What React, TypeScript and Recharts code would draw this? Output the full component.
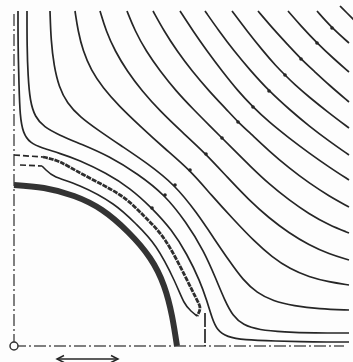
import React from 'react';
import { ComposedChart, Line, Scatter, XAxis, YAxis } from 'recharts';

type P = [number, number];

// Streamlines (x = distance from left wall, y = distance from bottom wall)
const L1: P[] = [[4,335],[4,300],[5,260],[6,230],[9,213],[16,203],[28,198],[45,193],[65,186],[92,173],[116,158],[138,138],[158,116],[173,92],[186,65],[193,45],[198,28],[203,16],[213,9],[230,6],[260,5],[300,4],[335,4]];
const L2: P[] = [[13,335],[13,300],[14,270],[16,245],[21,229],[30,219],[45,211],[67,202],[95,190],[124,172],[151,151],[172,124],[190,95],[202,67],[211,45],[219,30],[229,21],[245,16],[270,14],[300,13],[335,13]];
const L3: P[] = [[36,335],[37,305],[40,280],[45,259],[53,243],[66,229],[84,216],[106,201],[133,183],[161,161],[183,133],[201,106],[216,84],[229,66],[243,53],[259,45],[280,40],[305,37],[335,36]];
const L4: P[] = [[61,335],[64,315],[69,295],[77,276],[89,258],[105,240],[126,220],[150,198],[176,176],[198,150],[220,126],[240,105],[258,89],[276,77],[295,69],[315,64],[335,61]];
const L5: P[] = [[86,335],[92,315],[101,295],[113,275],[128,255],[146,235],[168,214],[192,192],[214,168],[235,146],[255,128],[275,113],[295,101],[315,92],[335,86]];
const L6: P[] = [[113,335],[121,315],[132,295],[146,275],[162,255],[180,236],[196,220],[208,208],[220,196],[236,180],[255,162],[275,146],[295,132],[315,121],[335,113]];
const L7: P[] = [[139,335],[150,315],[163,295],[178,275],[195,255],[213,236],[224,224],[236,213],[255,195],[275,178],[295,163],[315,150],[335,139]];
const L8: P[] = [[166,335],[179,315],[193,295],[208,275],[224,255],[239,239],[255,224],[275,208],[295,193],[315,179],[335,166]];
const L9: P[] = [[191,335],[205,315],[220,295],[236,276],[255,255],[276,236],[295,220],[315,205],[335,191]];
const L10: P[] = [[218,335],[233,315],[249,295],[262,280],[271,271],[280,262],[295,249],[315,233],[335,218]];
const L11: P[] = [[244,335],[261,315],[275,300],[287,287],[300,275],[315,261],[335,244]];
const L12: P[] = [[274,335],[287,320],[303,303],[320,287],[335,274]];
const L13: P[] = [[303,335],[318,318],[335,303]];
const L14: P[] = [[326,340],[333,333],[340,326]];

const cylinder: P[] = [[0,161],[30,158],[60,150],[88,136],[114,114],[136,88],[150,60],[158,30],[163,0]];

const sepDashTop: P[] = [[0,191],[29,189]];
const innerDashTop: P[] = [[6,181],[28,180]];
const eddyOuter: P[] = [[29,189],[46,184],[70,171],[106,151],[130,130],[151,106],[171,70],[182,48],[186,38],[183,30]];
const eddyInner: P[] = [[28,180],[32,176],[42,169],[66,160],[99,142],[122,122],[142,99],[160,66],[170,44],[177,35],[183,30]];
const sepBottom: P[] = [[191,33],[191,0]];

const wallV: P[] = [[0,0],[0,334]];
const wallH: P[] = [[0,0],[330,0]];

const diagMarks: P[] = [[318,318],[303,303],[287,287],[271,271],[255,255],[239,239],[224,224],[208,208],[192,192],[176,176],[161,161],[151,151],[138,138]];
const origin: P[] = [[0,0]];

const arrowShaft: P[] = [[43,-13],[104,-13]];
const arrowLeft: P[] = [[50,-9.5],[43,-13],[50,-16.5]];
const arrowRight: P[] = [[97,-9.5],[104,-13],[97,-16.5]];

const streamlines: P[][] = [L1, L2, L3, L4, L5, L6, L7, L8, L9, L10, L11, L12, L13, L14];

const toPts = (a: P[]) => a.map(([x, y]) => ({ x, y }));

const INK = '#262626';

export default function App() {
  return (
    <div style={{ position: 'fixed', left: 0, top: 0, width: 353, height: 362, background: '#fdfdfd' }}>
      <ComposedChart width={353} height={362} margin={{ top: 0, right: 0, bottom: 0, left: 0 }}>
        <XAxis type="number" dataKey="x" domain={[-14, 339]} hide allowDataOverflow />
        <YAxis type="number" dataKey="y" domain={[-16, 346]} hide allowDataOverflow />
        <Line data={toPts(wallV)} dataKey="y" type="linear" stroke="#555" strokeWidth={1.5} strokeDasharray="12 3 2 3" dot={false} activeDot={false} isAnimationActive={false} />
        <Line data={toPts(wallH)} dataKey="y" type="linear" stroke="#555" strokeWidth={1.5} strokeDasharray="12 3 2 3" dot={false} activeDot={false} isAnimationActive={false} />
        {streamlines.map((s, i) => (
          <Line key={i} data={toPts(s)} dataKey="y" type="basis" stroke={INK} strokeWidth={1.7} dot={false} activeDot={false} isAnimationActive={false} />
        ))}
        <Line data={toPts(cylinder)} dataKey="y" type="natural" stroke="#333" strokeWidth={6} dot={false} activeDot={false} isAnimationActive={false} />
        <Line data={toPts(sepDashTop)} dataKey="y" type="linear" stroke={INK} strokeWidth={1.7} strokeDasharray="6 3" dot={false} activeDot={false} isAnimationActive={false} />
        <Line data={toPts(innerDashTop)} dataKey="y" type="linear" stroke={INK} strokeWidth={1.7} strokeDasharray="6 3" dot={false} activeDot={false} isAnimationActive={false} />
        <Line data={toPts(eddyOuter)} dataKey="y" type="natural" stroke="#2e2e2e" strokeWidth={2.8} strokeDasharray="5 1" dot={false} activeDot={false} isAnimationActive={false} />
        <Line data={toPts(eddyInner)} dataKey="y" type="natural" stroke={INK} strokeWidth={1.6} dot={false} activeDot={false} isAnimationActive={false} />
        <Line data={toPts(sepBottom)} dataKey="y" type="linear" stroke={INK} strokeWidth={1.7} strokeDasharray="14 2" dot={false} activeDot={false} isAnimationActive={false} />
        <Line data={toPts(arrowShaft)} dataKey="y" type="linear" stroke={INK} strokeWidth={1.5} dot={false} activeDot={false} isAnimationActive={false} />
        <Line data={toPts(arrowLeft)} dataKey="y" type="linear" stroke={INK} strokeWidth={1.5} dot={false} activeDot={false} isAnimationActive={false} />
        <Line data={toPts(arrowRight)} dataKey="y" type="linear" stroke={INK} strokeWidth={1.5} dot={false} activeDot={false} isAnimationActive={false} />
        <Scatter data={toPts(diagMarks)} dataKey="y" fill={INK} isAnimationActive={false}
          shape={(p: any) => <circle cx={p.cx} cy={p.cy} r={1.8} fill={INK} />} />
        <Scatter data={toPts(origin)} dataKey="y" isAnimationActive={false}
          shape={(p: any) => <circle cx={p.cx} cy={p.cy} r={4} fill="#fff" stroke="#333" strokeWidth={1.5} />} />
      </ComposedChart>
    </div>
  );
}
